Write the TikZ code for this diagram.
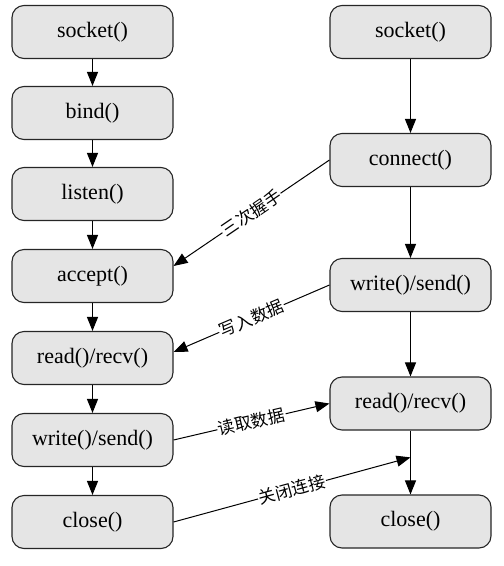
\documentclass[tikz,border=0pt]{standalone}
\usepackage{fontspec}
\setmainfont{Liberation Serif}
\newfontfamily\cjk{Noto Sans CJK SC}
\usetikzlibrary{arrows.meta,calc}
\tikzset{
  fn/.style={draw=black!85, line width=1.1pt, fill=black!10, rounded corners=12pt,
    minimum width=161pt, minimum height=53pt, inner sep=0pt,
    font=\fontsize{22}{26}\selectfont},
  arr/.style={line width=1pt, -{Triangle[length=14pt,width=11pt]}},
  lab/.style={midway, sloped, fill=white, inner sep=1pt, font=\cjk\fontsize{17}{20}\selectfont}
}
\begin{document}
\begin{tikzpicture}[x=1pt,y=-1pt]
\useasboundingbox (0,0) rectangle (504,566);
% left column (server)
\node[fn] (sS) at (92.5,32) {socket()};
\node[fn] (bind) at (92.5,113) {bind()};
\node[fn] (listen) at (92.5,194) {listen()};
\node[fn] (accept) at (92.5,276) {accept()};
\node[fn] (readL) at (92.5,358) {read()/recv()};
\node[fn] (writeL) at (92.5,440) {write()/send()};
\node[fn] (closeL) at (92.5,522) {close()};
% right column (client)
\node[fn] (cS) at (410.5,32) {socket()};
\node[fn] (connect) at (410.5,160) {connect()};
\node[fn] (writeR) at (410.5,285) {write()/send()};
\node[fn] (readR) at (410.5,403.5) {read()/recv()};
\node[fn] (closeR) at (410.5,521.5) {close()};
% vertical arrows
\draw[arr] (sS) -- (bind);
\draw[arr] (bind) -- (listen);
\draw[arr] (listen) -- (accept);
\draw[arr] (accept) -- (readL);
\draw[arr] (readL) -- (writeL);
\draw[arr] (writeL) -- (closeL);
\draw[arr] (cS) -- (connect);
\draw[arr] (connect) -- (writeR);
\draw[arr] (writeR) -- (readR);
\draw[arr] (readR) -- (closeR);
% cross arrows
\coordinate (j) at ($(readR.south)!0.42!(closeR.north)$);
\draw[arr] (connect.west) -- node[lab] {三次握手} ([yshift=10pt]accept.east);
\draw[arr] (writeR.west) -- node[lab] {写入数据} ([yshift=6pt]readL.east);
\draw[arr] (writeL.east) -- node[lab] {读取数据} (readR.west);
\draw[arr] (closeL.east) -- node[lab] {关闭连接} (j);
\end{tikzpicture}
\end{document}
